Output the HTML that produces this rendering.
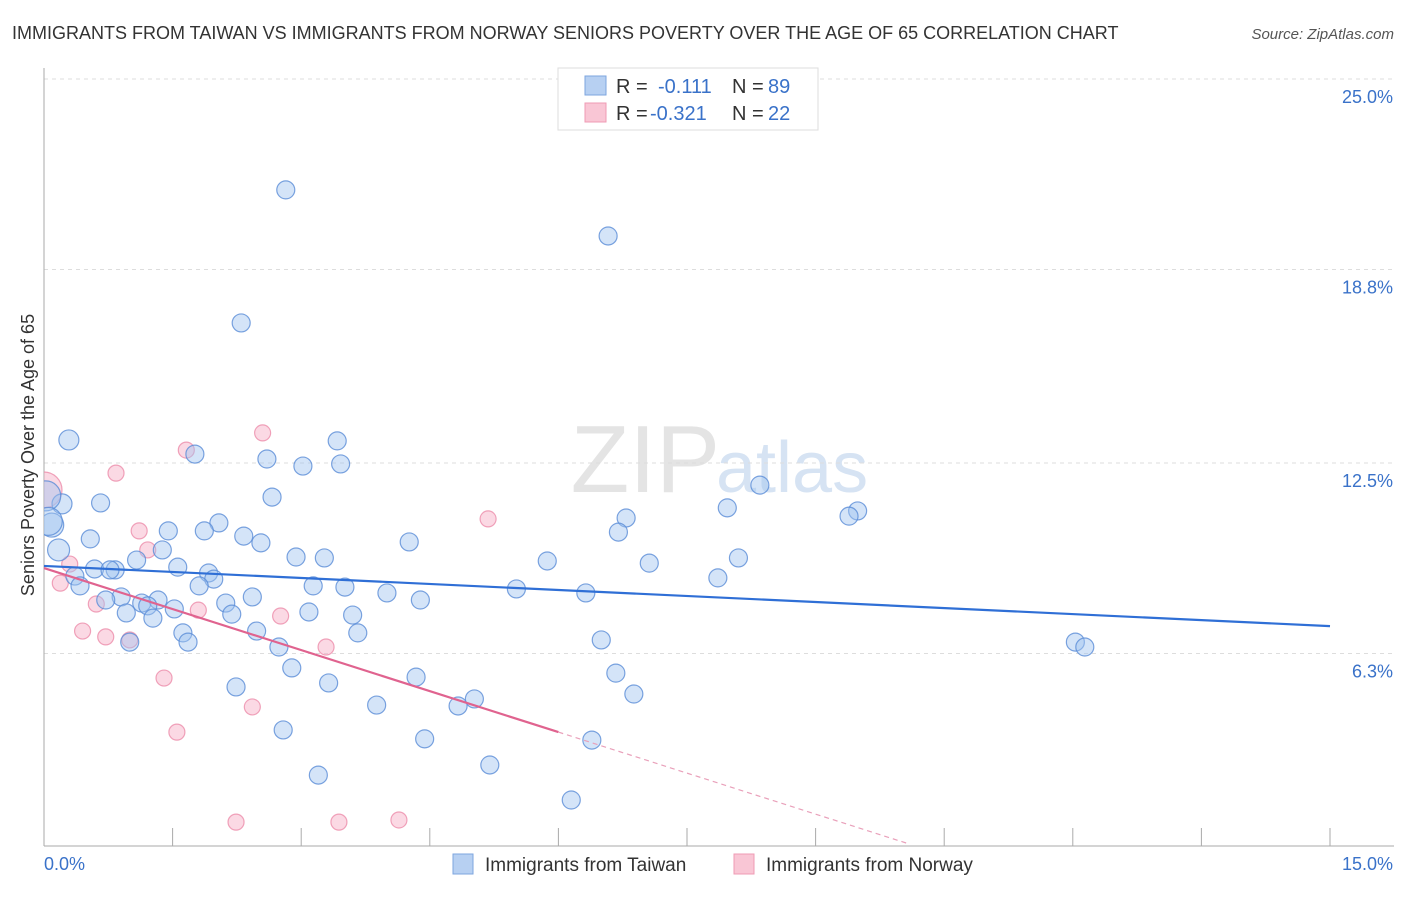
<!DOCTYPE html>
<html><head><meta charset="utf-8"><style>
body{margin:0;background:#fff;font-family:"Liberation Sans",sans-serif;}
svg text{font-family:"Liberation Sans",sans-serif;}
</style></head><body>
<svg id="c" width="1406" height="892" xmlns="http://www.w3.org/2000/svg">
<text x="12" y="39" font-size="18" fill="#333">IMMIGRANTS FROM TAIWAN VS IMMIGRANTS FROM NORWAY SENIORS POVERTY OVER THE AGE OF 65 CORRELATION CHART</text>
<text x="1394" y="39" font-size="15" fill="#555" font-style="italic" text-anchor="end">Source: ZipAtlas.com</text>
<text x="720" y="492" font-size="96" fill="#e4e4e4" text-anchor="end" font-family="Liberation Serif">ZIP</text>
<text x="716" y="492" font-size="72" fill="#d6e3f3">atlas</text>
<text transform="translate(34,455) rotate(-90)" font-size="18" fill="#333" text-anchor="middle">Seniors Poverty Over the Age of 65</text>
<g id="grid"></g><g id="axes"></g>
<defs><clipPath id="pc"><rect x="44" y="60" width="1350" height="786"/></clipPath></defs>
<g id="pts" clip-path="url(#pc)"></g><g id="lines"></g>
<g>
<rect x="558" y="68" width="260" height="62" fill="#fff" stroke="#ddd"/>
<rect x="585" y="76" width="21" height="19" fill="#b7d0f2" stroke="#7ea6df"/>
<rect x="585" y="103" width="21" height="19" fill="#f9c6d5" stroke="#ef9bb4"/>
<text x="616" y="93" font-size="20" fill="#333">R = </text><text x="658" y="93" font-size="20" fill="#3a72c9">-0.111</text>
<text x="732" y="93" font-size="20" fill="#333">N = </text><text x="768" y="93" font-size="20" fill="#3a72c9">89</text>
<text x="616" y="120" font-size="20" fill="#333">R = </text><text x="650" y="120" font-size="20" fill="#3a72c9">-0.321</text>
<text x="732" y="120" font-size="20" fill="#333">N = </text><text x="768" y="120" font-size="20" fill="#3a72c9">22</text>
</g>
<g>
<rect x="453" y="854" width="20" height="20" fill="#b7d0f2" stroke="#7ea6df"/>
<text x="485" y="871" font-size="19" fill="#333">Immigrants from Taiwan</text>
<rect x="734" y="854" width="20" height="20" fill="#f9c6d5" stroke="#ef9bb4"/>
<text x="766" y="871" font-size="19" fill="#333">Immigrants from Norway</text>
</g>
</svg>
<script>
const yTicks=[25.0,18.8,12.5,6.3];
const yTickLabels=["25.0%","18.8%","12.5%","6.3%"];
const xTickLabels=["0.0%","15.0%"];
const twX=[2.82,6.58,2.30,0.29,3.42,1.76,2.60,3.02,3.46,8.35,2.66,0.66,0.21,0.09,7.97,9.49,9.39,6.79,1.45,2.04,1.87,6.70,2.33,0.54,2.53,4.26,0.17,1.38,2.94,3.27,5.87,7.06,1.08,8.10,0.59,0.83,0.77,1.56,0.36,1.92,1.98,0.42,1.81,3.14,3.51,7.86,5.51,4.00,6.32,4.39,0.90,0.72,2.43,1.33,1.14,2.12,1.21,1.52,3.09,3.60,0.96,2.19,1.27,2.48,1.62,3.66,6.50,1.68,1.00,12.03,12.14,2.74,2.89,6.67,4.34,3.32,2.24,6.88,5.02,4.83,3.88,2.79,4.44,6.39,5.20,3.20,6.15,0.02,0.05];
const twY=[21.39,19.89,17.06,13.25,13.22,12.79,12.63,12.40,12.47,11.78,11.39,11.20,11.17,10.48,11.04,10.94,10.77,10.71,10.29,10.55,10.29,10.25,10.12,10.03,9.90,9.93,9.67,9.67,9.44,9.41,9.31,9.24,9.34,9.41,9.05,9.02,9.02,9.11,8.82,8.92,8.72,8.50,8.50,8.50,8.46,8.76,8.40,8.27,8.27,8.04,8.14,8.04,8.14,8.04,7.94,7.94,7.85,7.75,7.65,7.55,7.62,7.58,7.45,7.03,6.97,6.97,6.74,6.67,6.67,6.67,6.51,6.51,5.83,5.66,5.53,5.34,5.21,4.98,4.82,4.59,4.62,3.81,3.52,3.48,2.67,2.34,1.53,11.43,10.60];
const twR=[9,9,9,10,9,9,9,9,9,9,9,9,10,12,9,9,9,9,9,9,9,9,9,9,9,9,11,9,9,9,9,9,9,9,9,9,9,9,9,9,9,9,9,9,9,9,9,9,9,9,9,9,9,9,9,9,9,9,9,9,9,9,9,9,9,9,9,9,9,9,9,9,9,9,9,9,9,9,9,9,9,9,9,9,9,9,9,15,14];
const nwX=[0.0,2.55,1.66,0.84,5.18,1.11,1.21,0.30,0.19,0.61,1.80,2.76,0.45,0.72,1.00,3.29,1.40,2.43,1.55,2.24,3.44,4.14];
const nwY=[11.62,13.48,12.92,12.17,10.68,10.29,9.67,9.21,8.59,7.91,7.71,7.52,7.03,6.84,6.74,6.51,5.50,4.56,3.74,0.81,0.81,0.88];
const nwR=[18,8,8,8,8,8,8,8,8,8,8,8,8,8,8,8,8,8,8,8,8,8];
const blueTrend=[9.15,7.19];
const pinkTrend=[9.08,3.74];
const pinkSolidEnd=6.0, pinkDashEnd=10.1;
const NS="http://www.w3.org/2000/svg";
const X=v=>44+v/15*1286, Y=v=>847-v/6.25*192;
function mk(t,a,p){const e=document.createElementNS(NS,t);for(const k in a)e.setAttribute(k,a[k]);p.appendChild(e);return e;}
const grid=document.getElementById('grid'),axes=document.getElementById('axes');
yTicks.forEach((t,i)=>{const g=mk('line',{x1:44,x2:1394,y1:Y(t),y2:Y(t),stroke:'#ddd','stroke-dasharray':'4,4'},grid);


const l=mk('text',{x:1393,y:Y(t)+24,'font-size':18,fill:'#3a72c9','text-anchor':'end'},axes);l.textContent=yTickLabels[i];

});
const ax=mk('line',{x1:44,x2:44,y1:68,y2:846,stroke:'#aaa'},axes);


const bx=mk('line',{x1:44,x2:1394,y1:846,y2:846,stroke:'#aaa'},axes);


for(let i=0;i<=10;i++){const t=mk('line',{x1:X(i*1.5),x2:X(i*1.5),y1:828,y2:846,stroke:'#aaa'},axes);

}
const xl0=mk('text',{x:44,y:870,'font-size':18,fill:'#3a72c9'},axes);xl0.textContent=xTickLabels[0];


const xl1=mk('text',{x:1393,y:870,'font-size':18,fill:'#3a72c9','text-anchor':'end'},axes);xl1.textContent=xTickLabels[1];


const pts=document.getElementById('pts');
nwX.forEach((v,i)=>{const c=mk('circle',{cx:X(v),cy:Y(nwY[i]),r:nwR[i],fill:'rgba(246,170,195,0.45)',stroke:'rgba(236,140,170,0.8)','stroke-width':1.2},pts);

});
twX.forEach((v,i)=>{const c=mk('circle',{cx:X(v),cy:Y(twY[i]),r:twR[i],fill:'rgba(160,195,240,0.45)',stroke:'rgba(90,140,215,0.8)','stroke-width':1.2},pts);

});
const lines=document.getElementById('lines');
const bl=mk('line',{x1:X(0),y1:Y(blueTrend[0]),x2:X(15),y2:Y(blueTrend[1]),stroke:'#2f6fd6','stroke-width':2.2},lines);


const slope=(pinkTrend[1]-pinkTrend[0])/pinkSolidEnd;
const pl=mk('line',{x1:X(0),y1:Y(pinkTrend[0]),x2:X(pinkSolidEnd),y2:Y(pinkTrend[1]),stroke:'#e0638f','stroke-width':2.2},lines);


const pd=mk('line',{x1:X(pinkSolidEnd),y1:Y(pinkTrend[1]),x2:X(pinkDashEnd),y2:Y(pinkTrend[0]+slope*pinkDashEnd),stroke:'#e9a0ba','stroke-width':1.2,'stroke-dasharray':'5,4'},lines);


</script>
</body></html>
